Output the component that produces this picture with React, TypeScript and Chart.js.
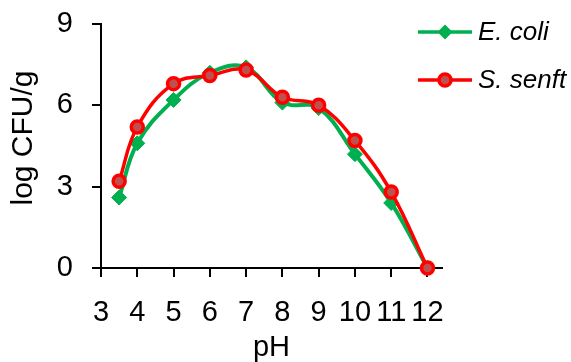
import React, { useEffect, useRef } from "react";
import { Chart, registerables } from "chart.js";

Chart.register(...registerables);

const phValues = [3.5, 4, 5, 6, 7, 8, 9, 10, 11, 12];
const eColi = [2.6, 4.6, 6.2, 7.2, 7.4, 6.1, 5.9, 4.2, 2.4, 0];
const sSenft = [3.2, 5.2, 6.8, 7.1, 7.3, 6.3, 6.0, 4.7, 2.8, 0];
const seriesNames = ["E. coli", "S. senft"];
const xTitle = "pH";
const yTitle = "log CFU/g";

const FONT = "'Liberation Sans', Arial, sans-serif";
const GREEN = "#00B050";
const RED = "#FF0000";
const RED_FILL = "#C0504D";

const legendPlugin = {
  id: "customLegend",
  afterDraw(chart: any) {
    const ctx = chart.ctx;
    const items = [
      { name: seriesNames[0], y: 32, kind: "diamond" },
      { name: seriesNames[1], y: 80, kind: "circle" },
    ];
    ctx.save();
    items.forEach((it) => {
      const color = it.kind === "diamond" ? GREEN : RED;
      ctx.strokeStyle = color;
      ctx.lineWidth = 3.5;
      ctx.beginPath();
      ctx.moveTo(418, it.y);
      ctx.lineTo(472, it.y);
      ctx.stroke();
      const cx = 445;
      if (it.kind === "diamond") {
        ctx.fillStyle = GREEN;
        ctx.beginPath();
        ctx.moveTo(cx - 7.5, it.y);
        ctx.lineTo(cx, it.y - 7.5);
        ctx.lineTo(cx + 7.5, it.y);
        ctx.lineTo(cx, it.y + 7.5);
        ctx.closePath();
        ctx.fill();
      } else {
        ctx.fillStyle = RED_FILL;
        ctx.beginPath();
        ctx.arc(cx, it.y, 6, 0, Math.PI * 2);
        ctx.fill();
        ctx.lineWidth = 3.5;
        ctx.strokeStyle = RED;
        ctx.stroke();
      }
      ctx.fillStyle = "#000";
      ctx.font = `italic 26px ${FONT}`;
      ctx.textAlign = "left";
      ctx.textBaseline = "middle";
      ctx.fillText(it.name, 478, it.y + 1);
    });
    // y-axis title
    ctx.save();
    ctx.translate(24, 138);
    ctx.rotate(-Math.PI / 2);
    ctx.font = `30px ${FONT}`;
    ctx.textAlign = "center";
    ctx.textBaseline = "middle";
    ctx.fillText(yTitle, 0, 0);
    ctx.restore();
    ctx.restore();
  },
};

export default function App() {
  const ref = useRef<HTMLCanvasElement | null>(null);
  useEffect(() => {
    if (!ref.current) return;
    const chart = new Chart(ref.current, {
      type: "line",
      data: {
        datasets: [
          {
            label: seriesNames[1],
            data: phValues.map((x, i) => ({ x, y: sSenft[i] })),
            borderColor: RED,
            borderWidth: 3.5,
            backgroundColor: RED_FILL,
            pointBackgroundColor: RED_FILL,
            pointBorderColor: RED,
            pointBorderWidth: 3.5,
            pointRadius: 6,
            pointStyle: "circle",
            tension: 0.4,
            clip: false,
            order: 0,
          } as any,
          {
            label: seriesNames[0],
            data: phValues.map((x, i) => ({ x, y: eColi[i] })),
            borderColor: GREEN,
            borderWidth: 4,
            backgroundColor: GREEN,
            pointBackgroundColor: GREEN,
            pointBorderColor: GREEN,
            pointBorderWidth: 1,
            pointRadius: 7.5,
            pointStyle: "rectRot",
            tension: 0.4,
            clip: false,
            order: 1,
          } as any,
        ],
      },
      options: {
        responsive: false,
        animation: false,
        events: [],
        layout: { padding: { top: 24, right: 129, left: 0, bottom: 0 } },
        plugins: { legend: { display: false }, tooltip: { enabled: false } },
        scales: {
          x: {
            type: "linear",
            min: 3,
            max: 12.4,
            afterFit(scale: any) {
              scale.height = 94;
              scale.paddingLeft = 0;
              scale.paddingRight = 0;
            },
            ticks: {
              stepSize: 1,
              includeBounds: false,
              autoSkip: false,
              maxRotation: 0,
              color: "#000",
              padding: 19,
              font: { family: FONT, size: 29 },
            },
            grid: {
              drawOnChartArea: false,
              drawTicks: true,
              tickLength: 9,
              color: "#000",
              lineWidth: 2,
            },
            border: { display: true, color: "#000", width: 2 },
            title: {
              display: true,
              text: xTitle,
              color: "#000",
              padding: 0,
              font: { family: FONT, size: 29, lineHeight: 1 },
            },
          },
          y: {
            type: "linear",
            min: 0,
            max: 9,
            afterFit(scale: any) {
              scale.width = 101;
              scale.paddingTop = 0;
              scale.paddingBottom = 0;
            },
            ticks: {
              stepSize: 3,
              color: "#000",
              padding: 19,
              font: { family: FONT, size: 29 },
            },
            grid: {
              drawOnChartArea: false,
              drawTicks: true,
              tickLength: 9,
              color: "#000",
              lineWidth: 2,
            },
            border: { display: true, color: "#000", width: 2 },
            title: { display: false },
          },
        },
      },
      plugins: [legendPlugin],
    } as any);
    return () => chart.destroy();
  }, []);
  return (
    <div style={{ position: "absolute", left: 0, top: 0, width: 571, height: 362, background: "#fff" }}>
      <canvas ref={ref} width={571} height={362} />
    </div>
  );
}
